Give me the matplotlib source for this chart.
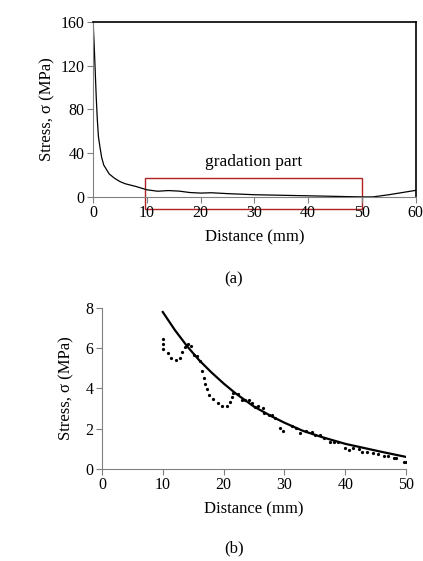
import matplotlib
matplotlib.use("Agg")
import matplotlib.pyplot as plt
from matplotlib.patches import Rectangle

plt.rcParams['font.family'] = ['Liberation Serif', 'DejaVu Serif']

top_x = [0,0.2,0.4,0.6,0.8,1,1.3,1.6,2,2.5,3,4,5,6,8,10,12,14,16,18,20,22,25,30,35,40,45,50,52,55,60]
top_y = [160,140,115,90,70,55,45,36,29,25,21,17,14,12,9.5,6.5,5.2,5.8,5.3,4,3.5,3.8,3,2,1.5,1,0.5,0,0,2,6]

fit_x = [10,12,14,16,18,20,22,25,28,30,33,36,40,43,46,50]
fit_y = [7.8,6.9,6.1,5.4,4.8,4.25,3.75,3.1,2.6,2.3,1.9,1.6,1.25,1.05,0.85,0.6]

dot_x = [10,10,10.1,10.8,11.4,12.2,12.9,13.2,13.6,14.2,14.6,15.2,15.7,16.1,16.5,16.7,17,17.3,17.6,18.2,19,19.8,20.5,21,21.3,21.6,22.3,23.1,23.6,24.1,24.6,25.1,25.7,26.4,26.7,27.4,28,28.5,29.2,29.8,31.2,31.9,32.5,33.6,34.5,35.1,35.9,36.5,37.5,38.2,38.8,40,40.6,41.3,42.2,42.8,43.5,44.5,45.4,46.3,47.1,48,48.3,49.6,50]
dot_y = [6.46,6.2,5.95,5.75,5.5,5.4,5.5,5.8,6.05,6.2,6.1,5.65,5.6,5.35,4.85,4.5,4.2,3.95,3.7,3.5,3.3,3.15,3.15,3.35,3.6,3.8,3.75,3.45,3.45,3.45,3.3,3.1,3.15,3.05,2.8,2.7,2.7,2.55,2.05,1.9,2.15,2.05,1.8,1.9,1.85,1.7,1.7,1.55,1.35,1.35,1.35,1.05,0.95,1.05,1.0,0.85,0.85,0.8,0.75,0.65,0.65,0.55,0.55,0.35,0.35]

fig = plt.figure(figsize=(4.23, 5.61), dpi=100)

def style(ax, full):
    for s in ['left', 'bottom']:
        ax.spines[s].set_color('#808080')
    if full:
        ax.spines['top'].set_linewidth(1.2)
        ax.spines['right'].set_linewidth(1.2)
    else:
        ax.spines['top'].set_visible(False)
        ax.spines['right'].set_visible(False)
    ax.tick_params(direction='out', length=4, color='#808080', labelsize=11.5, pad=2)

ax1 = fig.add_axes([0.220, 0.649, 0.763, 0.312])
ax1.plot(top_x, top_y, color='black', lw=0.9)
ax1.set_xlim(0, 60); ax1.set_ylim(0, 160)
ax1.set_xticks(range(0, 61, 10)); ax1.set_yticks(range(0, 161, 40))
style(ax1, True)
ax1.add_patch(Rectangle((9.6, -10.7), 40.4, 28.1, fill=False, edgecolor='#b22222', lw=1, clip_on=False))
ax1.text(29.8, 32, 'gradation part', ha='center', va='center', fontsize=12.5)
ax1.set_xlabel('Distance (mm)', fontsize=12, labelpad=6)
ax1.set_ylabel('Stress, σ (MPa)', fontsize=12, labelpad=4)
fig.text(0.553, 1 - 279/561, '(a)', ha='center', va='center', fontsize=12)

ax2 = fig.add_axes([0.241, 0.164, 0.719, 0.287])
ax2.plot(fit_x, fit_y, color='black', lw=1.6)
ax2.plot(dot_x, dot_y, ls='none', marker='o', ms=1.3, color='black')
ax2.set_xlim(0, 50); ax2.set_ylim(0, 8)
ax2.set_xticks(range(0, 51, 10)); ax2.set_yticks(range(0, 9, 2))
style(ax2, False)
ax2.set_xlabel('Distance (mm)', fontsize=12, labelpad=6)
ax2.set_ylabel('Stress, σ (MPa)', fontsize=12, labelpad=8)
fig.text(0.553, 1 - 548/561, '(b)', ha='center', va='center', fontsize=12)

fig.savefig('out.png', dpi=100)
